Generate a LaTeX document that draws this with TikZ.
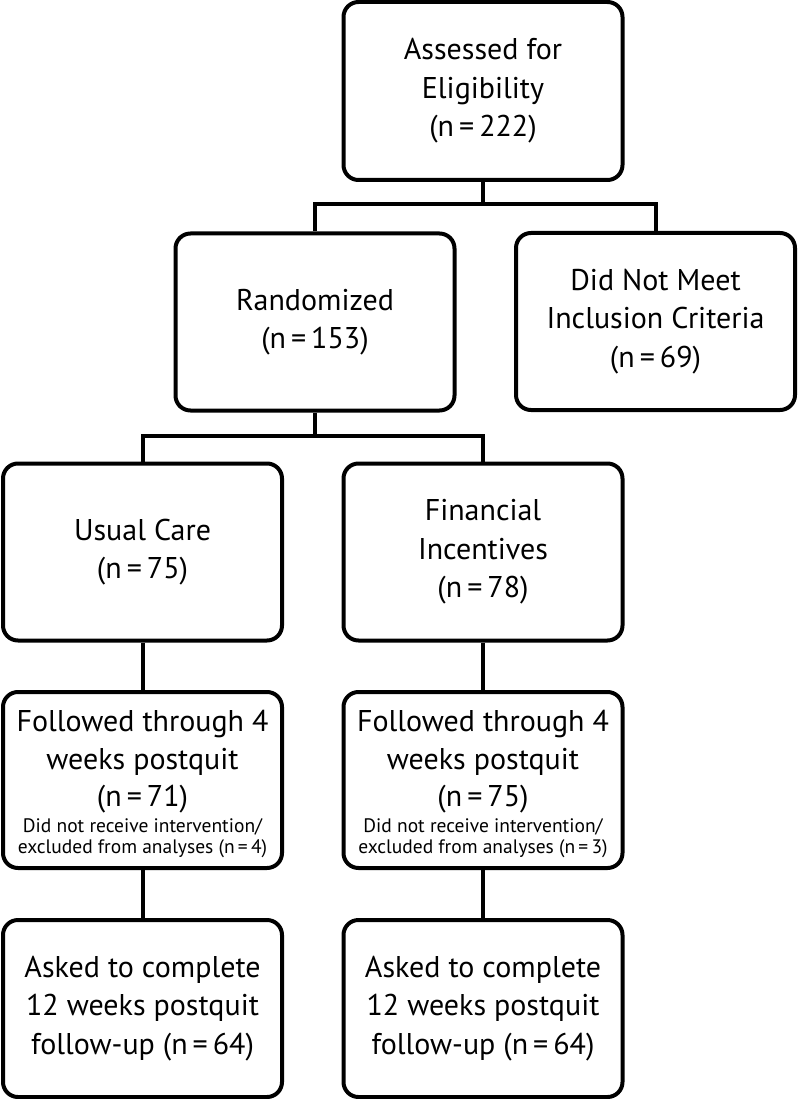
\documentclass[tikz,border=0pt]{standalone}
\usepackage{fontspec}
\setmainfont{PT Sans}
\begin{document}
\begin{tikzpicture}[x=1pt,y=-1pt,
  box/.style={draw, line width=4pt, rounded corners=15pt, minimum width=279pt,
    minimum height=177pt, align=center, inner sep=0pt,
    font=\fontsize{30}{38.5}\selectfont},
  mixbox/.style={box, text width=274pt, align=flush center},
  conn/.style={line width=4pt, line join=miter}]
\useasboundingbox (0,0) rectangle (798,1099);
\node[box, minimum height=178pt] (b1) at (483,91) {Assessed for\\Eligibility\\(n\,=\,222)};
\node[box] (b2) at (315,322) {Randomized\\(n\,=\,153)};
\node[box] (b3) at (655.5,321.5) {Did Not Meet\\Inclusion Criteria\\(n\,=\,69)};
\node[box] (b4) at (142.5,552) {Usual Care\\(n\,=\,75)};
\node[box] (b5) at (483,552) {Financial\\Incentives\\(n\,=\,78)};
\node[mixbox, minimum height=176pt] (b6) at (142.5,780) {{\fontsize{30}{37.5}\selectfont \rule{0pt}{30pt}Followed through 4\\weeks postquit\\(n\,=\,71)\par}\vspace{5pt}{\fontsize{19.5}{21}\selectfont Did not receive intervention/\\excluded from analyses (n\,=\,4)\par}};
\node[mixbox, minimum height=176pt] (b7) at (483,780) {{\fontsize{30}{37.5}\selectfont \rule{0pt}{30pt}Followed through 4\\weeks postquit\\(n\,=\,75)\par}\vspace{5pt}{\fontsize{19.5}{21}\selectfont Did not receive intervention/\\excluded from analyses (n\,=\,3)\par}};
\node[box] (b8) at (142.5,1008.5) {Asked to complete\\12 weeks postquit\\follow-up (n\,=\,64)};
\node[box] (b9) at (483,1008.5) {Asked to complete\\12 weeks postquit\\follow-up (n\,=\,64)};
\coordinate (j1) at (483,204);
\coordinate (j2) at (315,436);
\draw[conn] (b1.south) -- (j1);
\draw[conn] (b2.north) |- (j1) -| (b3.north);
\draw[conn] (b2.south) -- (j2);
\draw[conn] (b4.north) |- (j2) -| (b5.north);
\draw[conn] (b4.south) -- (b6.north);
\draw[conn] (b5.south) -- (b7.north);
\draw[conn] (b6.south) -- (b8.north);
\draw[conn] (b7.south) -- (b9.north);
\end{tikzpicture}
\end{document}
